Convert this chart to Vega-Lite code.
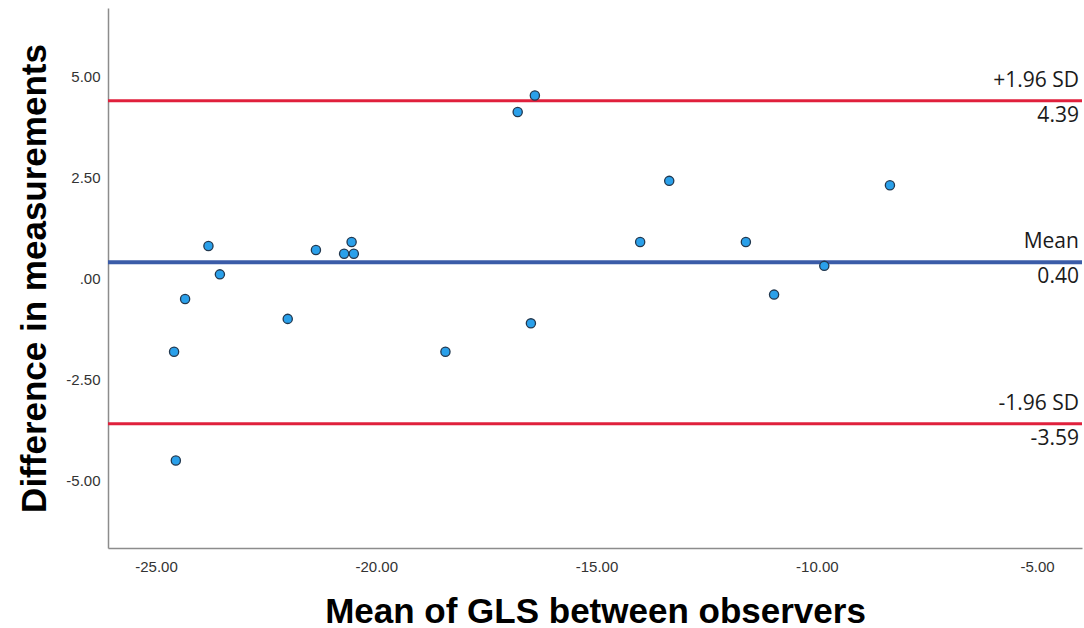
{
  "$schema": "https://vega.github.io/schema/vega-lite/v6.json",
  "width": 974,
  "height": 540,
  "autosize": {"type": "none"},
  "padding": {"left": 108, "top": 8, "right": 2, "bottom": 80},
  "background": "white",
  "config": {"view": {"stroke": null}},
  "datasets": {
    "points": [
      {"meanGLS": -24.59, "diff": -1.81},
      {"meanGLS": -24.55, "diff": -4.50},
      {"meanGLS": -24.34, "diff": -0.51},
      {"meanGLS": -23.81, "diff": 0.80},
      {"meanGLS": -23.55, "diff": 0.10},
      {"meanGLS": -22.01, "diff": -1.00},
      {"meanGLS": -21.37, "diff": 0.70},
      {"meanGLS": -20.73, "diff": 0.61},
      {"meanGLS": -20.56, "diff": 0.90},
      {"meanGLS": -20.51, "diff": 0.61},
      {"meanGLS": -18.43, "diff": -1.81},
      {"meanGLS": -16.79, "diff": 4.11},
      {"meanGLS": -16.40, "diff": 4.52},
      {"meanGLS": -16.49, "diff": -1.11},
      {"meanGLS": -14.01, "diff": 0.90},
      {"meanGLS": -13.35, "diff": 2.41},
      {"meanGLS": -11.61, "diff": 0.90},
      {"meanGLS": -10.97, "diff": -0.40},
      {"meanGLS": -9.83, "diff": 0.31},
      {"meanGLS": -8.34, "diff": 2.30}
    ],
    "limits": [
      {"value": 4.39, "kind": "sd", "top": "+1.96 SD", "bottom": "4.39"},
      {"value": 0.40, "kind": "mean", "top": "Mean", "bottom": "0.40"},
      {"value": -3.59, "kind": "sd", "top": "-1.96 SD", "bottom": "-3.59"}
    ]
  },
  "layer": [
    {
      "data": {"name": "limits"},
      "transform": [{"filter": "datum.kind == 'sd'"}],
      "mark": {"type": "rule", "color": "#e0203c", "strokeWidth": 3},
      "encoding": {
        "y": {
          "field": "value",
          "type": "quantitative",
          "scale": {"domain": [-6.66, 6.68], "nice": false, "zero": false},
          "axis": {
            "values": [-5, -2.5, 0, 2.5, 5],
            "labelExpr": "datum.value == 0 ? '.00' : (datum.value < 0 ? '-' : '') + format(abs(datum.value), '.2f')",
            "grid": false,
            "ticks": false,
            "labelPadding": 8,
            "labelFont": "Liberation Sans",
            "labelFontSize": 15,
            "labelColor": "#333333",
            "domainColor": "#8c8c8c",
            "domainWidth": 1.5,
            "title": "Difference in measurements",
            "titleFont": "Liberation Sans",
            "titleFontWeight": "bold",
            "titleFontSize": 35,
            "titleColor": "#000000",
            "titleAngle": -90,
            "titleX": -63,
            "titleY": 270,
            "titleAlign": "center",
            "titleBaseline": "alphabetic"
          }
        }
      }
    },
    {
      "data": {"name": "limits"},
      "transform": [{"filter": "datum.kind == 'mean'"}],
      "mark": {"type": "rule", "color": "#3b5ca8", "strokeWidth": 4},
      "encoding": {
        "y": {"field": "value", "type": "quantitative"}
      }
    },
    {
      "data": {"name": "points"},
      "mark": {"type": "point", "shape": "circle", "filled": true, "fill": "#2aa0ea", "stroke": "#22384f", "strokeWidth": 1.3, "size": 85, "opacity": 1},
      "encoding": {
        "x": {
          "field": "meanGLS",
          "type": "quantitative",
          "scale": {"domain": [-26.09, -3.98], "nice": false, "zero": false},
          "axis": {
            "values": [-25, -20, -15, -10, -5],
            "labelExpr": "(datum.value < 0 ? '-' : '') + format(abs(datum.value), '.2f')",
            "grid": false,
            "ticks": false,
            "labelPadding": 11,
            "labelFont": "Liberation Sans",
            "labelFontSize": 15,
            "labelColor": "#333333",
            "domainColor": "#8c8c8c",
            "domainWidth": 1.5,
            "title": "Mean of GLS between observers",
            "titleFont": "Liberation Sans",
            "titleFontWeight": "bold",
            "titleFontSize": 35,
            "titleColor": "#000000",
            "titleY": 74,
            "titleBaseline": "alphabetic"
          }
        },
        "y": {"field": "diff", "type": "quantitative"}
      }
    },
    {
      "data": {"name": "limits"},
      "mark": {"type": "text", "align": "right", "baseline": "alphabetic", "dy": -14, "font": "Open Sans", "fontSize": 21, "color": "#1a1a1a"},
      "encoding": {
        "x": {"datum": -4.05},
        "y": {"field": "value", "type": "quantitative"},
        "text": {"field": "top"}
      }
    },
    {
      "data": {"name": "limits"},
      "mark": {"type": "text", "align": "right", "baseline": "alphabetic", "dy": 21, "font": "Open Sans", "fontSize": 21, "color": "#1a1a1a"},
      "encoding": {
        "x": {"datum": -4.05},
        "y": {"field": "value", "type": "quantitative"},
        "text": {"field": "bottom"}
      }
    }
  ]
}
